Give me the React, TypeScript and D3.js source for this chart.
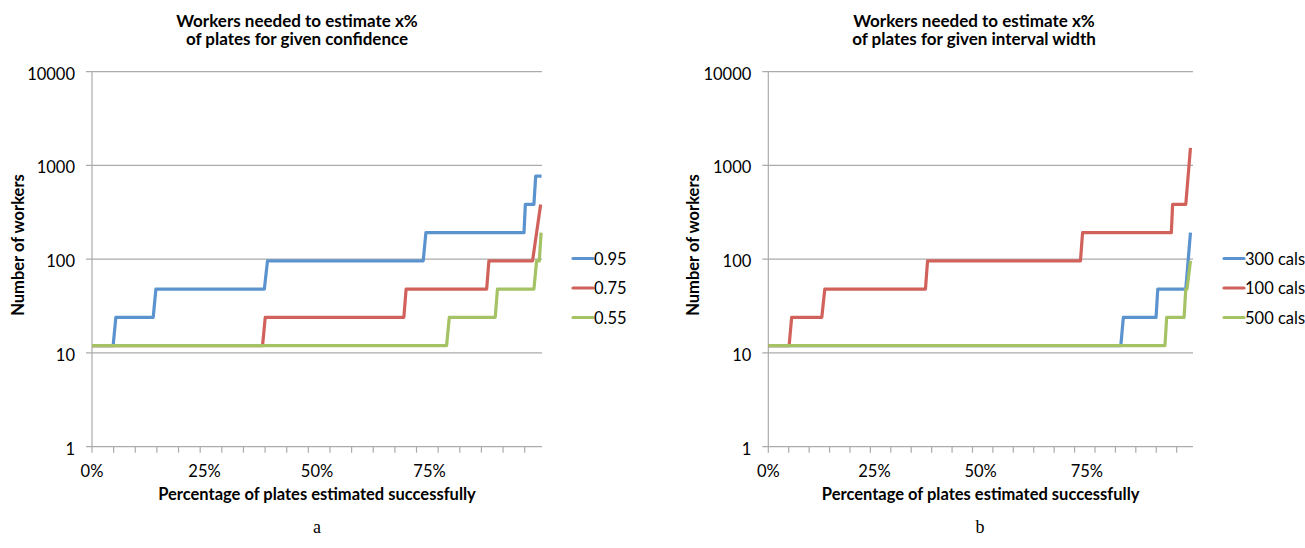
import React, { useRef, useEffect } from "react";
import * as d3 from "d3";

type Pt = [number, number];

// x = share of plates estimated (0..1), y = number of workers
const conf95: Pt[] = [[0, 12], [0.047, 12], [0.053, 24], [0.136, 24], [0.142, 48], [0.383, 48], [0.39, 96], [0.736, 96], [0.742, 192], [0.96, 192], [0.963, 384], [0.982, 384], [0.986, 768], [0.999, 768]];
const conf75: Pt[] = [[0, 12], [0.379, 12], [0.385, 24], [0.693, 24], [0.698, 48], [0.877, 48], [0.882, 96], [0.979, 96], [0.997, 384]];
const conf55: Pt[] = [[0, 12], [0.788, 12], [0.794, 24], [0.896, 24], [0.901, 48], [0.982, 48], [0.988, 96], [0.994, 96], [0.998, 192]];

const cals300: Pt[] = [[0, 12], [0.83, 12], [0.836, 24], [0.913, 24], [0.917, 48], [0.983, 48], [0.994, 192]];
const cals100: Pt[] = [[0, 12], [0.049, 12], [0.055, 24], [0.126, 24], [0.133, 48], [0.37, 48], [0.375, 96], [0.735, 96], [0.74, 192], [0.949, 192], [0.952, 384], [0.983, 384], [0.994, 1536]];
const cals500: Pt[] = [[0, 12], [0.934, 12], [0.938, 24], [0.979, 24], [0.983, 48], [0.986, 48], [0.994, 96]];

const confidenceNames = ["0.95", "0.75", "0.55"];
const widthNames = ["300 cals", "100 cals", "500 cals"];

const yTicks = [1, 10, 100, 1000, 10000];
const xLabelTicks = [0, 0.25, 0.5, 0.75];
const categoryCount = 104; // plates -> categories on the x axis
const tickEvery = 5;

const colors = ["#5B93CF", "#D1625B", "#A5C365"];

interface PanelCfg {
  x0: number;
  x1: number;
  titleCx: number;
  title: string[];
  series: Pt[][];
  names: string[];
  yTitleX: number;
  letter: string;
  letterX: number;
}

const panels: PanelCfg[] = [
  {
    x0: 92, x1: 542, titleCx: 297,
    title: ["Workers needed to estimate x%", "of plates for given confidence"],
    series: [conf95, conf75, conf55], names: confidenceNames,
    yTitleX: 23.5, letter: "a", letterX: 317,
  },
  {
    x0: 768.3, x1: 1193, titleCx: 974,
    title: ["Workers needed to estimate x%", "of plates for given interval width"],
    series: [cals300, cals100, cals500], names: widthNames,
    yTitleX: 699, letter: "b", letterX: 980,
  },
];

const App: React.FC = () => {
  const svgRef = useRef<SVGSVGElement | null>(null);

  useEffect(() => {
    const svg = d3.select(svgRef.current);
    svg.selectAll("*").remove();
    const font = "Lato, 'Open Sans', sans-serif";
    const grid = "#ABABAB";

    const y = d3.scaleLog().domain([1, 10000]).range([446.7, 71.7]);

    panels.forEach((p) => {
      const x = d3.scaleLinear().domain([0, 1]).range([p.x0, p.x1]);
      const g = svg.append("g");

      // gridlines + y ticks
      g.selectAll(".grid")
        .data(yTicks)
        .join("line")
        .attr("x1", p.x0 - 6)
        .attr("x2", p.x1)
        .attr("y1", (d) => y(d))
        .attr("y2", (d) => y(d))
        .attr("stroke", grid)
        .attr("stroke-width", 1.2);

      g.selectAll(".ylab")
        .data(yTicks)
        .join("text")
        .attr("x", p.x0 - 17)
        .attr("y", (d) => y(d) + 8)
        .attr("text-anchor", "end")
        .style("font", `16.5px ${font}`)
        .text((d) => String(d));

      // y axis line
      g.append("line")
        .attr("x1", p.x0).attr("x2", p.x0)
        .attr("y1", y(10000)).attr("y2", y(1))
        .attr("stroke", grid).attr("stroke-width", 1.2);

      // x ticks
      const xt = d3.range(0, categoryCount + 1, tickEvery).map((i) => i / categoryCount);
      g.selectAll(".xtick")
        .data(xt)
        .join("line")
        .attr("x1", (d) => x(d)).attr("x2", (d) => x(d))
        .attr("y1", y(1)).attr("y2", y(1) + 6)
        .attr("stroke", grid).attr("stroke-width", 1.2);

      g.selectAll(".xlab")
        .data(xLabelTicks)
        .join("text")
        .attr("x", (d) => x(d))
        .attr("y", 477)
        .attr("text-anchor", "middle")
        .style("font", `16.5px ${font}`)
        .text((d) => d3.format(".0%")(d));

      // series
      const line = d3.line<Pt>().x((d) => x(d[0])).y((d) => y(d[1]));
      p.series.forEach((s, i) => {
        g.append("path")
          .attr("d", line(s))
          .attr("fill", "none")
          .attr("stroke", colors[i])
          .attr("stroke-width", 3.2)
          .attr("stroke-linejoin", "round");
      });

      // legend
      p.names.forEach((n, i) => {
        const ly = 258.5 + i * 29.5;
        g.append("line")
          .attr("x1", p.x1 + 31).attr("x2", p.x1 + 51)
          .attr("y1", ly).attr("y2", ly)
          .attr("stroke", colors[i]).attr("stroke-width", 3.2)
          .attr("stroke-linecap", "round");
        g.append("text")
          .attr("x", p.x1 + 52)
          .attr("y", ly + 6)
          .style("font", `16.5px ${font}`)
          .text(n);
      });

      // titles
      p.title.forEach((t, i) => {
        g.append("text")
          .attr("x", p.titleCx)
          .attr("y", 26.5 + i * 18.5)
          .attr("text-anchor", "middle")
          .style("font", `bold 17px ${font}`)
          .text(t);
      });

      g.append("text")
        .attr("x", (p.x0 + p.x1) / 2)
        .attr("y", 500)
        .attr("text-anchor", "middle")
        .style("font", `bold 16.5px ${font}`)
        .text("Percentage of plates estimated successfully");

      g.append("text")
        .attr("transform", `translate(${p.yTitleX},245) rotate(-90)`)
        .attr("text-anchor", "middle")
        .style("font", `bold 16.5px ${font}`)
        .text("Number of workers");

      g.append("text")
        .attr("x", p.letterX)
        .attr("y", 533)
        .attr("text-anchor", "middle")
        .style("font", "18px 'Liberation Serif', serif")
        .text(p.letter);
    });
  }, []);

  return (
    <svg
      ref={svgRef}
      width={1305}
      height={548}
      style={{ position: "absolute", left: 0, top: 0, background: "#fff" }}
    />
  );
};

export default App;
